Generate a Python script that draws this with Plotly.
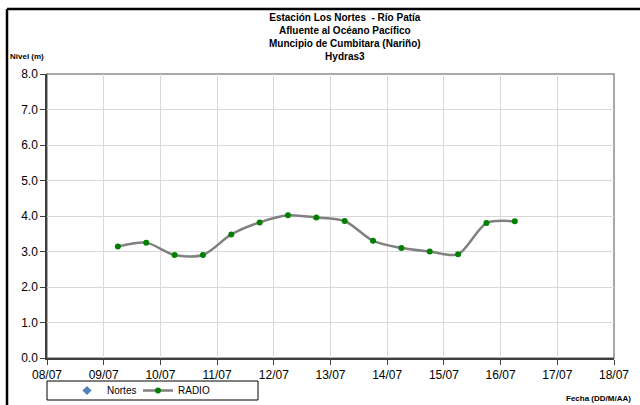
import plotly.graph_objects as go

# ---- data ----
fechas = ["2010-07-09 06:00", "2010-07-09 18:00", "2010-07-10 06:00", "2010-07-10 18:00",
          "2010-07-11 06:00", "2010-07-11 18:00", "2010-07-12 06:00", "2010-07-12 18:00",
          "2010-07-13 06:00", "2010-07-13 18:00", "2010-07-14 06:00", "2010-07-14 18:00",
          "2010-07-15 06:00", "2010-07-15 18:00", "2010-07-16 06:00"]
radio = [3.14, 3.25, 2.90, 2.90, 3.48, 3.82, 4.02, 3.96, 3.86, 3.30, 3.10, 3.00, 2.92, 3.80, 3.85]
tick_dates = ["2010-07-%02d" % d for d in range(8, 19)]
tick_labels = ["%02d/07" % d for d in range(8, 19)]
y_ticks = [0, 1, 2, 3, 4, 5, 6, 7, 8]
titulo = ["Estación Los Nortes  - Río Patía", "Afluente al Océano Pacífico",
          "Muncipio de Cumbitara (Nariño)", "Hydras3"]

W, H = 640, 405
L, R, T, B = 47, 26, 74, 47
pw, ph = W - L - R, H - T - B

def px(x):
    return (x - L) / pw

def py(y):
    return (H - B - y) / ph

FONT = "Liberation Sans, Arial, sans-serif"

fig = go.Figure()
fig.add_trace(go.Scatter(x=[None], y=[None], name="Nortes", mode="markers",
                         marker=dict(symbol="diamond", color="#4f81bd", size=7),
                         legend="legend"))
fig.add_trace(go.Scatter(x=fechas, y=radio, name="RADIO", mode="lines+markers",
                         line=dict(color="#808080", width=2.5, shape="spline", smoothing=0.8),
                         marker=dict(color="#008000", size=6), legend="legend2"))

leg_common = dict(orientation="h", xanchor="left", yanchor="top",
                  bgcolor="rgba(0,0,0,0)", borderwidth=0, font=dict(size=10, family=FONT),
                  itemwidth=30)

fig.update_layout(
    width=W, height=H,
    margin=dict(l=L, r=R, t=T, b=B, autoexpand=False),
    paper_bgcolor="white", plot_bgcolor="white",
    font=dict(family=FONT, size=11, color="black"),
    showlegend=True,
    legend=dict(x=px(67), y=py(376), **leg_common),
    legend2=dict(x=px(138), y=py(376), **leg_common),
    xaxis=dict(type="date", range=[tick_dates[0], tick_dates[-1]],
               tickvals=tick_dates, ticktext=tick_labels,
               showgrid=True, gridcolor="#d9d9d9", gridwidth=1,
               showline=True, linecolor="#404040", linewidth=1.5,
               ticks="outside", ticklen=5, tickcolor="#404040",
               tickfont=dict(size=12), zeroline=False),
    yaxis=dict(range=[0, 8], tickvals=y_ticks, tickformat=".1f",
               showgrid=True, gridcolor="#d9d9d9", gridwidth=1,
               showline=True, linecolor="#404040", linewidth=1.5,
               ticks="outside", ticklen=5, tickcolor="#404040",
               tickfont=dict(size=12), zeroline=False),
)

shapes = [
    dict(type="rect", xref="paper", yref="paper", x0=0, x1=1, y0=0, y1=1,
         line=dict(color="#8c8c8c", width=1.5), layer="below"),
    # outer chart frame (top and left edges visible)
    dict(type="line", xref="paper", yref="paper", x0=px(7), x1=px(700), y0=py(9), y1=py(9),
         line=dict(color="black", width=2.5)),
    dict(type="line", xref="paper", yref="paper", x0=px(7), x1=px(7), y0=py(9), y1=py(460),
         line=dict(color="black", width=2.5)),
    # legend box
    dict(type="rect", xref="paper", yref="paper", x0=px(47), x1=px(258), y0=py(400), y1=py(381),
         line=dict(color="black", width=1)),
]
fig.update_layout(shapes=shapes)

ann = [
    dict(text="<br>".join("<b>%s</b>" % t for t in titulo), x=px(345), y=py(10),
         xanchor="center", yanchor="top", showarrow=False,
         font=dict(size=10, family=FONT), xref="paper", yref="paper"),
    dict(text="<b>Nivel (m)</b>", x=px(8), y=py(56), xanchor="left", yanchor="middle",
         showarrow=False, font=dict(size=8, family=FONT), xref="paper", yref="paper"),
    dict(text="<b>Fecha (DD/M/AA)</b>", x=px(633), y=py(398), xanchor="right", yanchor="middle",
         showarrow=False, font=dict(size=8, family=FONT), xref="paper", yref="paper"),
]
fig.update_layout(annotations=ann)

fig.write_html("out.html", config={"displayModeBar": False},
               post_script="document.body.style.margin='0px';")
